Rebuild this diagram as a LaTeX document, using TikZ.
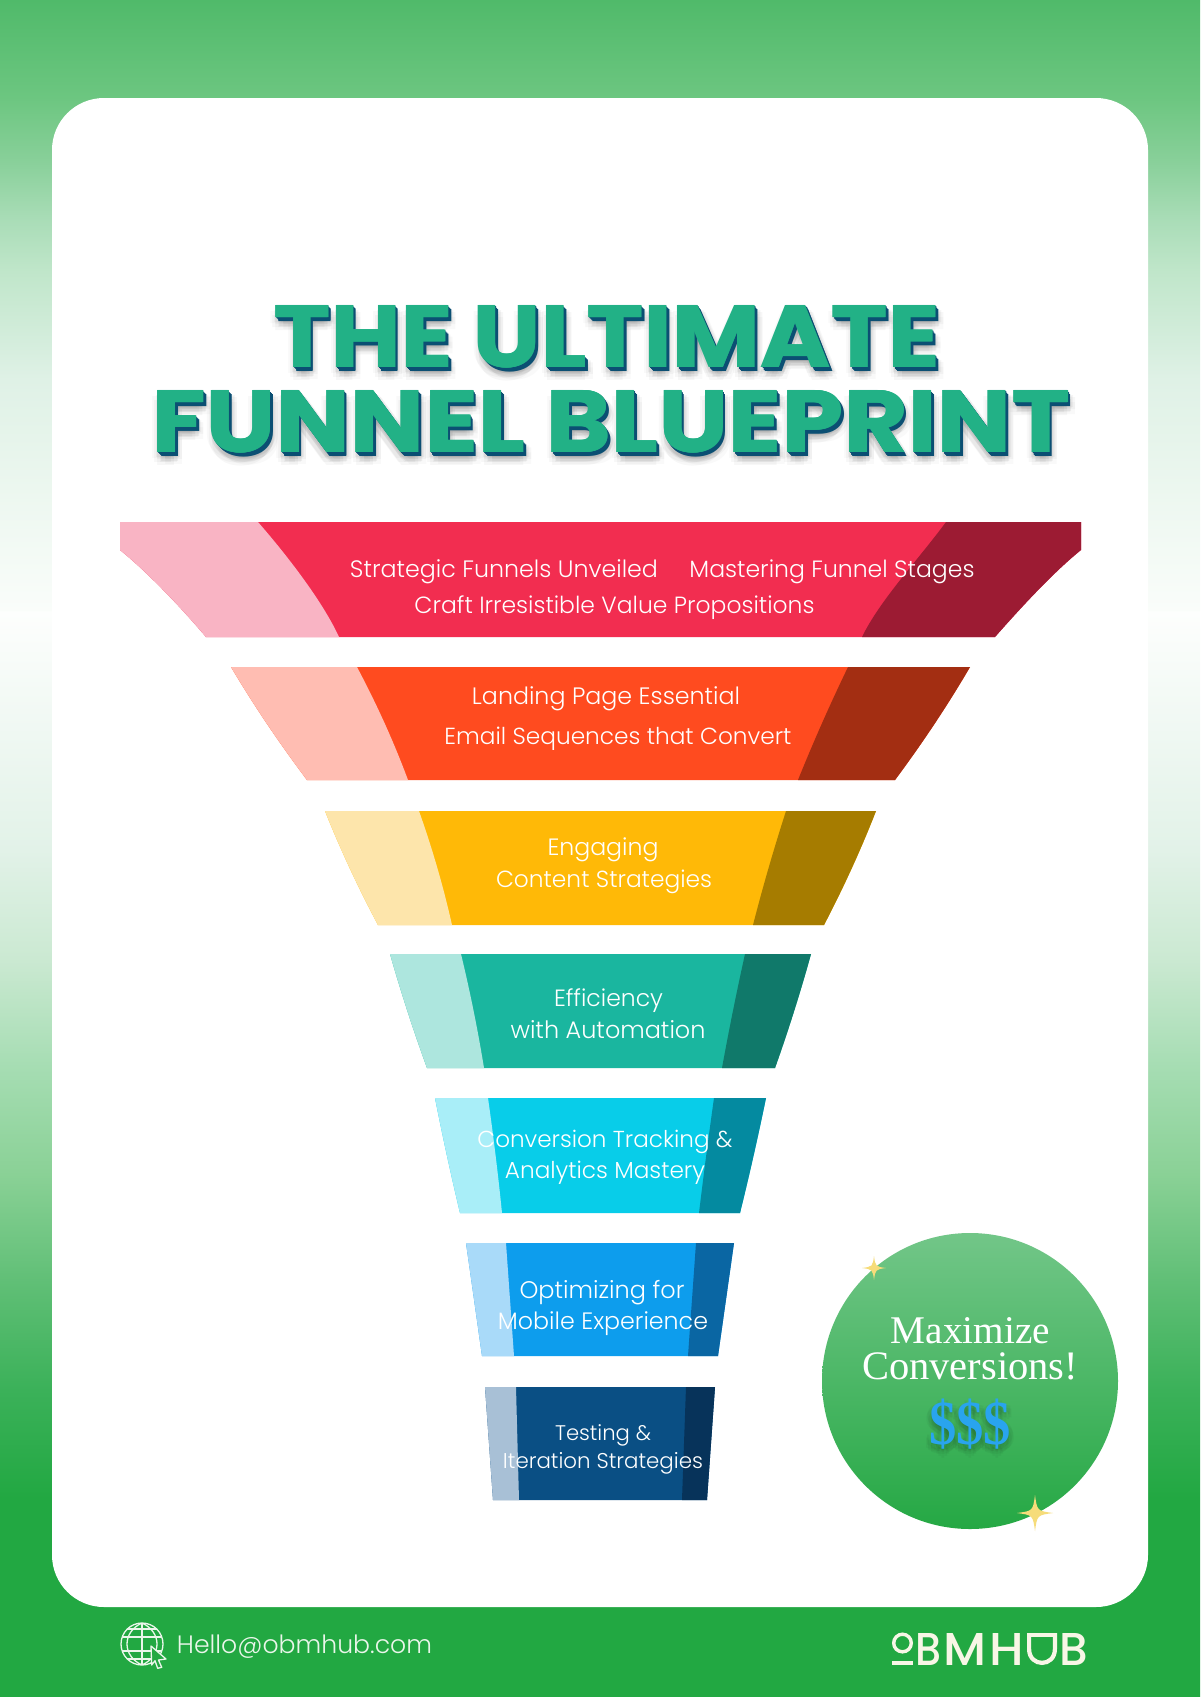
\documentclass[tikz,border=0pt]{standalone}
\usepackage{graphicx}
\usepackage{fontspec}
\newfontfamily\bodyf{Poppins}[UprightFont={* Light}]
\newfontfamily\titlef{Poppins}[UprightFont={* Bold}]
\newfontfamily\logof{Poppins}[UprightFont={* Medium}]
\newfontfamily\serf{Liberation Serif}
\newfontfamily\serbf{Liberation Serif}[UprightFont={* Bold}]
\definecolor{bga}{HTML}{50BA6A}\definecolor{bgb}{HTML}{6CC680}\definecolor{bgc}{HTML}{89D09A}
\definecolor{bgd}{HTML}{A8DCB6}\definecolor{bge}{HTML}{C0E6CA}\definecolor{bgf}{HTML}{DFF1E6}
\definecolor{bgg}{HTML}{ECF7EF}\definecolor{bgh}{HTML}{F8FCF9}\definecolor{bgi}{HTML}{FAFDFA}
\definecolor{bgj}{HTML}{FDFEFD}\definecolor{bgk}{HTML}{E2F2E8}\definecolor{bgl}{HTML}{CBE9D2}
\definecolor{bgm}{HTML}{A6DDB3}\definecolor{bgn}{HTML}{8AD196}\definecolor{bgo}{HTML}{60BF76}
\definecolor{bgp}{HTML}{3BB159}\definecolor{bgq}{HTML}{22A842}
\pgfdeclareverticalshading{pagebg}{100bp}{color(0bp)=(bgq);color(25bp)=(bgq);color(30.86bp)=(bgq);color(34.04bp)=(bgp);color(37.23bp)=(bgo);color(40.41bp)=(bgn);color(43.59bp)=(bgm);color(46.77bp)=(bgl);color(49.96bp)=(bgk);color(56.97bp)=(bgj);color(57.03bp)=(bgi);color(57.44bp)=(bgh);color(60.62bp)=(bgg);color(63.83bp)=(bgf);color(67bp)=(bge);color(68.6bp)=(bgd);color(70.23bp)=(bgc);color(72.14bp)=(bgb);color(75bp)=(bga);color(100bp)=(bga)}
\definecolor{titleface}{HTML}{22B186}\definecolor{titledeep}{HTML}{0B4F73}
\definecolor{logocol}{HTML}{F8F6E6}\definecolor{sparkcol}{HTML}{F6DC7A}
\definecolor{dollar}{HTML}{29A4EE}\definecolor{mailcol}{HTML}{EAF6EA}
\definecolor{footbg}{HTML}{22A842}
\definecolor{badgetop}{HTML}{72C688}\definecolor{badgemid}{HTML}{45B562}\definecolor{badgebot}{HTML}{25A844}
\definecolor{mA}{HTML}{F22D50}\definecolor{lA}{HTML}{F9B4C4}\definecolor{dA}{HTML}{9C1B33}
\definecolor{mB}{HTML}{FF4B1F}\definecolor{lB}{HTML}{FFBDB2}\definecolor{dB}{HTML}{A32E12}
\definecolor{mC}{HTML}{FFB907}\definecolor{lC}{HTML}{FDE5AB}\definecolor{dC}{HTML}{A67C00}
\definecolor{mD}{HTML}{1AB69F}\definecolor{lD}{HTML}{ADE6DE}\definecolor{dD}{HTML}{10796A}
\definecolor{mE}{HTML}{08CDE9}\definecolor{lE}{HTML}{A9EEF8}\definecolor{dE}{HTML}{048AA0}
\definecolor{mF}{HTML}{0D9DED}\definecolor{lF}{HTML}{A9DAF9}\definecolor{dF}{HTML}{0A66A3}
\definecolor{mG}{HTML}{0A4F84}\definecolor{lG}{HTML}{A8C0D6}\definecolor{dG}{HTML}{07335A}
\tikzset{
  lbl/.style={inner sep=0pt,outer sep=0pt,anchor=base,text=white},
  iconline/.style={draw=mailcol,line width=1.3pt},
  logoline/.style={draw=logocol,line width=4.2pt}
}
% name, centre x, baseline y, width, text
\newcommand{\fitlbl}[5]{\node[lbl] (#1) at (#2,#3) {\resizebox{#4pt}{!}{\bodyf #5}};}
% top, bottom, left-top, left-bottom, right-top, right-bottom, innerL-top, innerL-bot, innerR-top | innerR-bot, main, light, dark, bulge
\newcommand{\funnelseg}[9]{\def\sT{#1}\def\sB{#2}\def\sLT{#3}\def\sLB{#4}\def\sRT{#5}\def\sRB{#6}\def\sIT{#7}\def\sIB{#8}\def\sJT{#9}\funnelsegb}
\newcommand{\funnelsegb}[5]{%
  \pgfmathsetmacro\cA{\sT+(\sB-\sT)/3}\pgfmathsetmacro\cB{\sT+2*(\sB-\sT)/3}%
  \pgfmathsetmacro\iA{\sIT+(\sIB-\sIT)/3+#5}\pgfmathsetmacro\iB{\sIT+2*(\sIB-\sIT)/3+#5}%
  \pgfmathsetmacro\jA{\sJT+(#1-\sJT)/3-#5/2}\pgfmathsetmacro\jB{\sJT+2*(#1-\sJT)/3-#5/2}%
  \pgfmathsetmacro\lA{\sLT+(\sLB-\sLT)/3-#5}\pgfmathsetmacro\lB{\sLT+2*(\sLB-\sLT)/3-#5}%
  \pgfmathsetmacro\rA{\sRT+(\sRB-\sRT)/3+#5}\pgfmathsetmacro\rB{\sRT+2*(\sRB-\sRT)/3+#5}%
  \fill[#2] (\sLT,\sT) -- (\sRT,\sT) .. controls (\rA,\cA) and (\rB,\cB) .. (\sRB,\sB) -- (\sLB,\sB) .. controls (\lB,\cB) and (\lA,\cA) .. cycle;
  \fill[#3] (\sLT,\sT) -- (\sIT,\sT) .. controls (\iA,\cA) and (\iB,\cB) .. (\sIB,\sB) -- (\sLB,\sB) .. controls (\lB,\cB) and (\lA,\cA) .. cycle;
  \fill[#4] (\sRT,\sT) -- (\sJT,\sT) .. controls (\jA,\cA) and (\jB,\cB) .. (#1,\sB) -- (\sRB,\sB) .. controls (\rB,\cB) and (\rA,\cA) .. cycle;
}
\newcommand{\sparkle}[4]{\fill[sparkcol] (#1,#2-#4) .. controls (#1+#3*.12,#2-#4*.12) .. (#1+#3,#2) .. controls (#1+#3*.12,#2+#4*.12) .. (#1,#2+#4) .. controls (#1-#3*.12,#2+#4*.12) .. (#1-#3,#2) .. controls (#1-#3*.12,#2-#4*.12) .. cycle;}
\newcommand{\tline}[5]{% name, cx, baseline, w, text
  \foreach \dx/\dy/\op in {-5/6/.025,5/6/.025,-3/10/.03,3/10/.03,0/13/.03,8/7/.03,8/12/.025,0/7/.03,4/9/.05,-1/5/.04,6/5/.04}{
    \node[lbl,text=black,opacity=\op] at (#2+\dx,#3+\dy) {\resizebox{#4pt}{62pt}{\titlef #5}};
  }
  \foreach \dd in {4,3,2,1}{
    \node[lbl,text=titledeep] at (#2+\dd*.8,#3+\dd) {\resizebox{#4pt}{62pt}{\titlef #5}};
  }
  \foreach \ex/\ey in {-.5/0,.5/0}{
    \node[lbl,text=titleface] at (#2+\ex,#3+\ey) {\resizebox{#4pt}{62pt}{\titlef #5}};
  }
  \node[lbl,text=titleface] (#1) at (#2,#3) {\resizebox{#4pt}{62pt}{\titlef #5}};
}
\begin{document}
\begin{tikzpicture}[x=1pt,y=-1pt]
\useasboundingbox (0,0) rectangle (1200,1697);
\shade[shading=pagebg] (0,0) rectangle (1200,1697);
\fill[white,rounded corners=52pt] (52,98) rectangle (1148,1607);

% title
\tline{t1}{607}{367}{666}{THE ULTIMATE}
\tline{t2}{611}{452}{918}{FUNNEL BLUEPRINT}

% funnel, first segment (has vertical lips)
\fill[mA] (120,522) -- (1081,522) -- (1081,550) .. controls (1055,571) and (1024,604) .. (995,637) -- (206,637) .. controls (178,604) and (146,571) .. (120,550) -- cycle;
\fill[lA] (120,522) -- (258,522) .. controls (285,553) and (322,600) .. (339,637) -- (206,637) .. controls (178,604) and (146,571) .. (120,550) -- cycle;
\fill[dA] (1081,522) -- (946,522) .. controls (918,560) and (880,600) .. (862,637) -- (995,637) .. controls (1024,604) and (1055,571) .. (1081,550) -- cycle;
% remaining segments
\funnelseg{667}{780}{231}{307}{970}{895}{357}{408}{848}{798}{mB}{lB}{dB}{3}
\funnelseg{811}{925}{325}{378}{876}{824}{419}{452}{786}{753}{mC}{lC}{dC}{2.5}
\funnelseg{954}{1068}{390}{427}{811}{775}{461}{484}{745}{722}{mD}{lD}{dD}{1.5}
\funnelseg{1098}{1213}{435}{460}{766}{740}{488}{502}{714}{699}{mE}{lE}{dE}{.8}
\funnelseg{1243}{1356}{466}{482}{734}{718}{506}{514}{696}{688}{mF}{lF}{dF}{0}
\funnelseg{1387}{1500}{485}{493}{715}{707}{516}{519}{686}{682}{mG}{lG}{dG}{0}

% funnel labels
\fitlbl{a1}{504}{577}{308}{Strategic Funnels Unveiled}
\fitlbl{a2}{832}{577}{285}{Mastering Funnel Stages}
\fitlbl{a3}{614.5}{613}{400}{Craft Irresistible Value Propositions}
\fitlbl{b1}{606}{704}{268}{Landing Page Essential}
\fitlbl{b2}{618}{744}{347}{Email Sequences that Convert}
\fitlbl{c1}{603}{855}{111}{Engaging}
\fitlbl{c2}{604}{887}{216}{Content Strategies}
\fitlbl{d1}{608.5}{1006}{109}{Efficiency}
\fitlbl{d2}{608}{1038}{195}{with Automation}
\fitlbl{e1}{605}{1147}{255}{Conversion Tracking \&}
\fitlbl{e2}{605}{1178}{200}{Analytics Mastery}
\fitlbl{f1}{602}{1298}{165}{Optimizing for}
\fitlbl{f2}{603}{1329}{210}{Mobile Experience}
\fitlbl{g1}{603}{1440}{96}{Testing \&}
\fitlbl{g2}{603}{1468}{200}{Iteration Strategies}

% badge
\shade[top color=badgetop,middle color=badgemid,bottom color=badgebot] (970,1381) circle[radius=148pt];
\node[lbl] (m1) at (970.5,1343) {\resizebox{159pt}{!}{\serf Maximize}};
\node[lbl] (m2) at (970,1379) {\resizebox{216pt}{!}{\serf Conversions!}};
\foreach \dx/\dy/\op in {-4/2/.035,4/2/.035,0/5/.05,-3/7/.035,3/7/.035,5/5/.035,-5/5/.03,0/9/.035,0/1/.05}{
  \node[lbl,text=black,opacity=\op] at (970+\dx,1444.5+\dy) {\scalebox{1}[1.15]{\resizebox{82pt}{!}{\serbf \$\$\$}}};
}
\node[lbl,text=dollar] (m3) at (970,1444.5) {\scalebox{1}[1.15]{\resizebox{82pt}{!}{\serbf \$\$\$}}};
\sparkle{874}{1268}{12}{12}
\sparkle{1035}{1513}{18}{18}

% footer mail
\begin{scope}
\clip (142,1644) circle[radius=21pt];
\foreach \yy in {1629,1637,1651,1659}{\draw[iconline] (120,\yy) -- (164,\yy);}
\draw[iconline] (142,1620) -- (142,1668);
\draw[iconline] (142,1623) .. controls (122,1632) and (122,1656) .. (142,1665);
\draw[iconline] (142,1623) .. controls (162,1632) and (162,1656) .. (142,1665);
\end{scope}
\draw[iconline] (142,1644) circle[radius=21pt];
\draw[iconline,fill=footbg,line join=round] (151,1646) -- (166,1659) -- (158.5,1660) -- (161.7,1667.3) -- (157.7,1668.3) -- (155,1660.7) -- (151.7,1665) -- cycle;
\node[lbl,text=mailcol] (mail) at (304.5,1653) {\resizebox{255pt}{!}{\bodyf Hello@obmhub.com}};

% logo
\draw[logocol,line width=3.4pt] (902.5,1643) circle[radius=8.8pt];
\fill[logocol] (892,1661) rectangle (913,1665);
\node[lbl,text=logocol] (lg1) at (928.8,1665) {\resizebox{26pt}{32pt}{\logof B}};
\node[lbl,text=logocol] (lg2) at (965,1665) {\resizebox{43pt}{32pt}{\logof M}};
\node[lbl,text=logocol] (lg3) at (1006.5,1665) {\resizebox{34.5pt}{32pt}{\logof H}};
\draw[logoline,line cap=butt] (1027,1635) -- (1057,1635);
\draw[logoline,line cap=butt] (1029.1,1633) -- (1029.1,1649) .. controls (1029.1,1667.5) and (1054.9,1667.5) .. (1054.9,1649) -- (1054.9,1633);
\node[lbl,text=logocol] (lg4) at (1073.8,1665) {\resizebox{28.6pt}{32pt}{\logof B}};
\end{tikzpicture}
\end{document}
